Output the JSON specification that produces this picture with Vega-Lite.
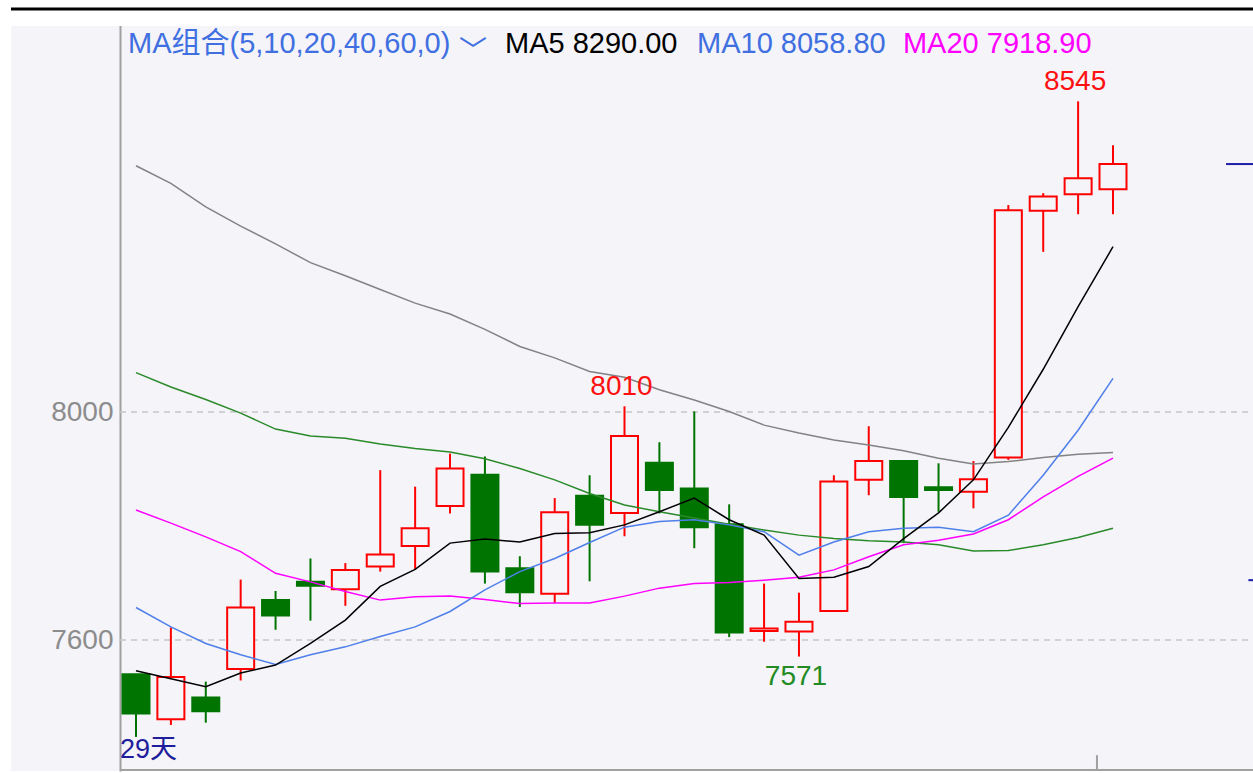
{
  "$schema": "https://vega.github.io/schema/vega-lite/v6.json",
  "width": 1242,
  "height": 771,
  "autosize": {"type": "none"},
  "padding": {"left": 11, "top": 0, "right": 0, "bottom": 2},
  "background": "#FFFFFF",
  "data": {"values": [{}]},
  "config": {
    "view": {"fill": "#F4F4F9", "stroke": null},
    "font": "Liberation Sans, Noto Sans CJK SC",
    "text": {"font": "Liberation Sans, Noto Sans CJK SC"},
    "axisY": {"offset": -109, "grid": false, "ticks": false, "domain": true, "domainColor": "#A0A0A0", "domainWidth": 2,
      "labelFont": "Liberation Sans", "labelFontSize": 28, "labelColor": "#8C8C8C", "labelPadding": 7, "title": null}
  },
  "datasets": {
    "candles": [
      {"i": 1, "open": 7540, "high": 7540, "low": 7430, "close": 7471, "ma5": 7546, "ma10": 7657, "ma20": 7828, "ma40": 8069, "ma60": 8432},
      {"i": 2, "open": 7461, "high": 7622, "low": 7451, "close": 7535, "ma5": 7532, "ma10": 7623, "ma20": 7805, "ma40": 8044, "ma60": 8401},
      {"i": 3, "open": 7499, "high": 7527, "low": 7455, "close": 7475, "ma5": 7518, "ma10": 7594, "ma20": 7781, "ma40": 8022, "ma60": 8360},
      {"i": 4, "open": 7549, "high": 7706, "low": 7529, "close": 7657, "ma5": 7542, "ma10": 7574, "ma20": 7755, "ma40": 7998, "ma60": 8326},
      {"i": 5, "open": 7670, "high": 7686, "low": 7618, "close": 7643, "ma5": 7556, "ma10": 7557, "ma20": 7717, "ma40": 7970, "ma60": 8295},
      {"i": 6, "open": 7702, "high": 7743, "low": 7634, "close": 7695, "ma5": 7594, "ma10": 7574, "ma20": 7702, "ma40": 7958, "ma60": 8262},
      {"i": 7, "open": 7689, "high": 7735, "low": 7660, "close": 7723, "ma5": 7635, "ma10": 7588, "ma20": 7685, "ma40": 7954, "ma60": 8239},
      {"i": 8, "open": 7729, "high": 7898, "low": 7720, "close": 7750, "ma5": 7694, "ma10": 7606, "ma20": 7670, "ma40": 7944, "ma60": 8215},
      {"i": 9, "open": 7765, "high": 7869, "low": 7723, "close": 7796, "ma5": 7724, "ma10": 7623, "ma20": 7676, "ma40": 7936, "ma60": 8191},
      {"i": 10, "open": 7835, "high": 7927, "low": 7822, "close": 7901, "ma5": 7770, "ma10": 7650, "ma20": 7677, "ma40": 7930, "ma60": 8172},
      {"i": 11, "open": 7890, "high": 7922, "low": 7699, "close": 7720, "ma5": 7777, "ma10": 7688, "ma20": 7671, "ma40": 7918, "ma60": 8145},
      {"i": 12, "open": 7726, "high": 7747, "low": 7658, "close": 7684, "ma5": 7772, "ma10": 7720, "ma20": 7664, "ma40": 7901, "ma60": 8115},
      {"i": 13, "open": 7681, "high": 7849, "low": 7665, "close": 7824, "ma5": 7787, "ma10": 7743, "ma20": 7665, "ma40": 7881, "ma60": 8095},
      {"i": 14, "open": 7853, "high": 7889, "low": 7703, "close": 7802, "ma5": 7788, "ma10": 7771, "ma20": 7665, "ma40": 7857, "ma60": 8071},
      {"i": 15, "open": 7823, "high": 8010, "low": 7782, "close": 7958, "ma5": 7802, "ma10": 7798, "ma20": 7677, "ma40": 7837, "ma60": 8061},
      {"i": 16, "open": 7911, "high": 7947, "low": 7822, "close": 7863, "ma5": 7825, "ma10": 7808, "ma20": 7691, "ma40": 7825, "ma60": 8039},
      {"i": 17, "open": 7866, "high": 8001, "low": 7761, "close": 7798, "ma5": 7849, "ma10": 7811, "ma20": 7699, "ma40": 7814, "ma60": 8021},
      {"i": 18, "open": 7803, "high": 7838, "low": 7605, "close": 7613, "ma5": 7811, "ma10": 7802, "ma20": 7701, "ma40": 7803, "ma60": 8001},
      {"i": 19, "open": 7616, "high": 7699, "low": 7597, "close": 7620, "ma5": 7784, "ma10": 7790, "ma20": 7705, "ma40": 7793, "ma60": 7977},
      {"i": 20, "open": 7615, "high": 7683, "low": 7571, "close": 7632, "ma5": 7708, "ma10": 7749, "ma20": 7710, "ma40": 7784, "ma60": 7963},
      {"i": 21, "open": 7651, "high": 7889, "low": 7651, "close": 7878, "ma5": 7710, "ma10": 7772, "ma20": 7723, "ma40": 7778, "ma60": 7951},
      {"i": 22, "open": 7881, "high": 7975, "low": 7854, "close": 7914, "ma5": 7729, "ma10": 7790, "ma20": 7746, "ma40": 7774, "ma60": 7942},
      {"i": 23, "open": 7914, "high": 7914, "low": 7770, "close": 7851, "ma5": 7778, "ma10": 7796, "ma20": 7767, "ma40": 7772, "ma60": 7932},
      {"i": 24, "open": 7868, "high": 7910, "low": 7825, "close": 7863, "ma5": 7823, "ma10": 7798, "ma20": 7775, "ma40": 7767, "ma60": 7919},
      {"i": 25, "open": 7860, "high": 7914, "low": 7831, "close": 7882, "ma5": 7881, "ma10": 7790, "ma20": 7786, "ma40": 7756, "ma60": 7909},
      {"i": 26, "open": 7920, "high": 8363, "low": 7916, "close": 8354, "ma5": 7973, "ma10": 7819, "ma20": 7811, "ma40": 7757, "ma60": 7913},
      {"i": 27, "open": 8353, "high": 8384, "low": 8281, "close": 8378, "ma5": 8075, "ma10": 7889, "ma20": 7851, "ma40": 7767, "ma60": 7920},
      {"i": 28, "open": 8382, "high": 8545, "low": 8347, "close": 8410, "ma5": 8185, "ma10": 7968, "ma20": 7887, "ma40": 7780, "ma60": 7926},
      {"i": 29, "open": 8391, "high": 8468, "low": 8347, "close": 8435, "ma5": 8290, "ma10": 8059, "ma20": 7919, "ma40": 7796, "ma60": 7929}
    ],
    "extremes": [
      {"i": 28, "value": 8545, "label": "8545", "kind": "high"},
      {"i": 15, "value": 8010, "label": "8010", "kind": "high"},
      {"i": 20, "value": 7571, "label": "7571", "kind": "low"}
    ],
    "grid": [{"level": 8000}, {"level": 7600}]
  },
  "layer": [
    {
      "data": {"name": "grid"},
      "mark": {"type": "rule", "color": "#C6C6C6", "strokeWidth": 1.5, "strokeDash": [6, 5]},
      "encoding": {
        "x": {"datum": 0.5414, "type": "quantitative", "scale": {"domain": [-2.582, 33.012], "nice": false, "zero": false, "padding": 0}, "axis": null},
        "x2": {"datum": 33.012},
        "y": {"field": "level", "type": "quantitative", "scale": {"domain": [7370.2, 8722.8], "nice": false, "zero": false, "padding": 0},
          "axis": {"values": [7600, 8000], "format": "d"}}
      }
    },
    {
      "data": {"name": "candles"},
      "mark": {"type": "rule", "strokeWidth": 2},
      "encoding": {
        "x": {"field": "i", "type": "quantitative", "axis": null},
        "y": {"field": "low", "type": "quantitative"},
        "y2": {"field": "high"},
        "color": {"condition": {"test": "datum.close >= datum.open", "value": "#FF0000"}, "value": "#007400"}
      }
    },
    {
      "data": {"name": "candles"},
      "mark": {"type": "bar", "size": 27, "strokeWidth": 2},
      "encoding": {
        "x": {"field": "i", "type": "quantitative", "axis": null},
        "y": {"field": "open", "type": "quantitative"},
        "y2": {"field": "close"},
        "fill": {"condition": {"test": "datum.close >= datum.open", "value": "#F4F4F9"}, "value": "#007400"},
        "stroke": {"condition": {"test": "datum.close >= datum.open", "value": "#FF0000"}, "value": "#007400"}
      }
    },
    {
      "data": {"name": "candles"},
      "transform": [{"fold": ["ma60", "ma40", "ma20", "ma10", "ma5"], "as": ["ma", "val"]}],
      "mark": {"type": "line", "strokeWidth": 1.5},
      "encoding": {
        "x": {"field": "i", "type": "quantitative", "axis": null},
        "y": {"field": "val", "type": "quantitative"},
        "color": {"field": "ma", "type": "nominal", "scale": {"domain": ["ma60", "ma40", "ma20", "ma10", "ma5"], "range": ["#838383", "#2A8A2A", "#FF00FF", "#4F7FEA", "#000000"]}, "legend": null},
        "detail": {"field": "ma"}
      }
    },
    {
      "data": {"name": "extremes"},
      "transform": [{"filter": "datum.kind == 'high'"}],
      "mark": {"type": "text", "fontSize": 28, "color": "#FF1010", "baseline": "bottom", "align": "center", "dy": -5, "dx": -3},
      "encoding": {
        "x": {"field": "i", "type": "quantitative", "axis": null},
        "y": {"field": "value", "type": "quantitative"},
        "text": {"field": "label"}
      }
    },
    {
      "data": {"name": "extremes"},
      "transform": [{"filter": "datum.kind == 'low'"}],
      "mark": {"type": "text", "fontSize": 28, "color": "#228B22", "baseline": "top", "align": "center", "dy": 6, "dx": -3},
      "encoding": {
        "x": {"field": "i", "type": "quantitative", "axis": null},
        "y": {"field": "value", "type": "quantitative"},
        "text": {"field": "label"}
      }
    },
    {
      "mark": {"type": "rect", "color": "#FFFFFF"},
      "encoding": {
        "x": {"datum": -2.582, "type": "quantitative", "axis": null},
        "x2": {"datum": 33.012},
        "y": {"datum": 8677.2, "type": "quantitative"},
        "y2": {"datum": 8722.8}
      }
    },
    {
      "mark": {"type": "rule", "color": "#000000", "strokeWidth": 3},
      "encoding": {
        "x": {"datum": -2.582, "type": "quantitative", "axis": null},
        "x2": {"datum": 33.012},
        "y": {"datum": 8707, "type": "quantitative"}
      }
    },
    {
      "mark": {"type": "rule", "color": "#A0A0A0", "strokeWidth": 2},
      "encoding": {
        "x": {"datum": 0.5414, "type": "quantitative", "axis": null},
        "x2": {"datum": 33.012},
        "y": {"datum": 7372, "type": "quantitative"}
      }
    },
    {
      "mark": {"type": "rule", "color": "#A0A0A0", "strokeWidth": 2},
      "encoding": {
        "x": {"datum": 28.54, "type": "quantitative", "axis": null},
        "y": {"datum": 7372, "type": "quantitative"},
        "y2": {"datum": 7398}
      }
    },
    {
      "mark": {"type": "rule", "color": "#1C1CA8", "strokeWidth": 2},
      "encoding": {
        "x": {"datum": 32.24, "type": "quantitative", "axis": null},
        "x2": {"datum": 33.012},
        "y": {"datum": 8435, "type": "quantitative"}
      }
    },
    {
      "mark": {"type": "rule", "color": "#1C1CA8", "strokeWidth": 2},
      "encoding": {
        "x": {"datum": 32.88, "type": "quantitative", "axis": null},
        "x2": {"datum": 33.012},
        "y": {"datum": 7705, "type": "quantitative"}
      }
    },
    {
      "mark": {"type": "text", "fontSize": 29, "color": "#3F6FE0", "align": "left", "baseline": "middle"},
      "encoding": {
        "x": {"datum": 0.7707, "type": "quantitative", "axis": null},
        "y": {"datum": 8645.6, "type": "quantitative"},
        "text": {"value": "MA组合(5,10,20,40,60,0)"}
      }
    },
    {
      "mark": {"type": "text", "fontSize": 28, "color": "#3F6FE0", "align": "left", "baseline": "middle", "font": "Noto Sans CJK SC"},
      "encoding": {
        "x": {"datum": 10.257, "type": "quantitative", "axis": null},
        "y": {"datum": 8629, "type": "quantitative"},
        "text": {"value": "﹀"}
      }
    },
    {
      "mark": {"type": "text", "fontSize": 29, "color": "#000000", "align": "left", "baseline": "middle"},
      "encoding": {
        "x": {"datum": 11.575, "type": "quantitative", "axis": null},
        "y": {"datum": 8645.6, "type": "quantitative"},
        "text": {"value": "MA5 8290.00"}
      }
    },
    {
      "mark": {"type": "text", "fontSize": 29, "color": "#3F6FE0", "align": "left", "baseline": "middle"},
      "encoding": {
        "x": {"datum": 17.078, "type": "quantitative", "axis": null},
        "y": {"datum": 8645.6, "type": "quantitative"},
        "text": {"value": "MA10 8058.80"}
      }
    },
    {
      "mark": {"type": "text", "fontSize": 29, "color": "#FF00FF", "align": "left", "baseline": "middle"},
      "encoding": {
        "x": {"datum": 22.98, "type": "quantitative", "axis": null},
        "y": {"datum": 8645.6, "type": "quantitative"},
        "text": {"value": "MA20 7918.90"}
      }
    },
    {
      "mark": {"type": "text", "fontSize": 27, "color": "#1E1E9C", "align": "left", "baseline": "middle"},
      "encoding": {
        "x": {"datum": 0.5414, "type": "quantitative", "axis": null},
        "y": {"datum": 7407, "type": "quantitative"},
        "text": {"value": "29天"}
      }
    }
  ]
}
